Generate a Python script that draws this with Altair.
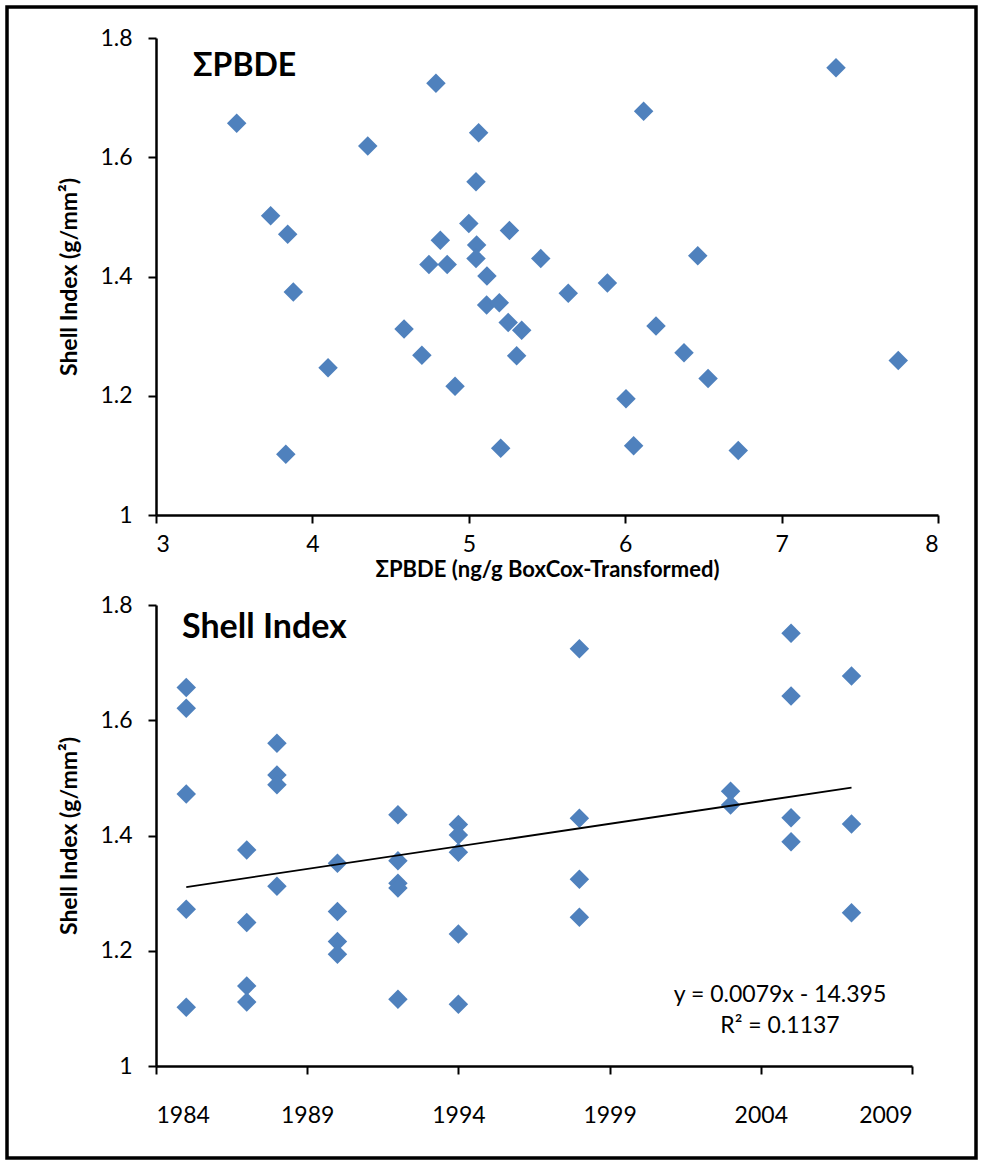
import altair as alt
import pandas as pd

# ---- Top panel: ΣPBDE vs Shell Index ----
pbde = [3.516, 3.733, 3.842, 3.878, 3.83, 4.10, 4.354, 4.586, 4.70, 4.745,
        4.79, 4.818, 4.862, 4.912, 5.0, 5.046, 5.05, 5.046, 5.063, 5.116,
        5.114, 5.195, 5.204, 5.252, 5.26, 5.306, 5.338, 5.46, 5.636, 5.886,
        6.005, 6.054, 6.118, 6.197, 6.376, 6.464, 6.53, 6.723, 7.348, 7.746]
si_top = [1.657, 1.502, 1.471, 1.374, 1.102, 1.247, 1.619, 1.312, 1.268, 1.42,
          1.724, 1.461, 1.42, 1.216, 1.489, 1.559, 1.453, 1.43, 1.641, 1.401,
          1.352, 1.356, 1.112, 1.323, 1.477, 1.267, 1.310, 1.43, 1.372, 1.389,
          1.195, 1.116, 1.677, 1.317, 1.272, 1.435, 1.229, 1.108, 1.750, 1.259]

# ---- Bottom panel: year vs Shell Index ----
years = ([1985] * 5 + [1987] * 4 + [1988] * 4 + [1990] * 4 + [1992] * 5 +
         [1994] * 5 + [1998] * 4 + [2003] * 2 + [2005] * 4 + [2007] * 3)
si_bottom = [1.657, 1.621, 1.472, 1.272, 1.102,
             1.375, 1.249, 1.139, 1.111,
             1.560, 1.505, 1.488, 1.312,
             1.352, 1.268, 1.216, 1.194,
             1.436, 1.356, 1.317, 1.309, 1.116,
             1.419, 1.401, 1.371, 1.229, 1.107,
             1.724, 1.430, 1.324, 1.258,
             1.477, 1.453,
             1.751, 1.642, 1.431, 1.389,
             1.677, 1.420, 1.266]

y_ticks = [1.0, 1.2, 1.4, 1.6, 1.8]
x_ticks_top = [3, 4, 5, 6, 7, 8]
x_ticks_bottom = [1984, 1989, 1994, 1999, 2004, 2009]

top_title = ["ΣPBDE"]
bottom_title = ["Shell Index"]
equation = ["y = 0.0079x - 14.395\nR² = 0.1137"]

FONT = "Lato, Noto Sans, sans-serif"
BLUE = "#4F81BD"

df_top = pd.DataFrame({"pbde": pbde, "si": si_top})
df_bot = pd.DataFrame({"year": years, "si": si_bottom})

y_title = "Shell Index (g/mm²)"

W1, H1 = 782, 477
W2, H2 = 756, 461

y_scale = alt.Scale(domain=[1, 1.8], nice=False, zero=False)
y_axis = alt.Axis(values=y_ticks, format=".1~f", title=y_title,
                  labelPadding=16, titlePadding=18)

# Top chart
pts_top = alt.Chart(df_top).mark_point(
    shape="diamond", filled=True, size=380, color=BLUE, opacity=1
).encode(
    x=alt.X("pbde:Q", scale=alt.Scale(domain=[3, 8], nice=False, zero=False),
            axis=alt.Axis(values=x_ticks_top, format="d", title="ΣPBDE (ng/g BoxCox-Transformed)",
                          labelPadding=10, titlePadding=3, titleFontSize=22)),
    y=alt.Y("si:Q", scale=y_scale, axis=y_axis),
)

title_top = alt.Chart(pd.DataFrame({"t": top_title})).mark_text(
    align="left", baseline="alphabetic", font=FONT, fontSize=32, fontWeight="bold", color="black"
).encode(x=alt.value(37), y=alt.value(38), text="t:N")

border = alt.Chart(pd.DataFrame({"b": [1]})).mark_rect(
    fill="white", fillOpacity=0, stroke="black", strokeWidth=3.5
).encode(x=alt.value(-149), x2=alt.value(820), y=alt.value(-31), y2=alt.value(1120))

top = alt.layer(border, pts_top, title_top).properties(width=W1, height=H1)

# Bottom chart
base_bot = alt.Chart(df_bot)
pts_bot = base_bot.mark_point(
    shape="diamond", filled=True, size=380, color=BLUE, opacity=1
).encode(
    x=alt.X("year:Q", scale=alt.Scale(domain=[1984, 2009], nice=False, zero=False),
            axis=alt.Axis(values=x_ticks_bottom, format="d", title=None, labelPadding=30)),
    y=alt.Y("si:Q", scale=y_scale, axis=y_axis),
)
trend = base_bot.transform_regression("year", "si", method="linear").mark_line(
    color="black", strokeWidth=1.8
).encode(x="year:Q", y="si:Q")

title_bot = alt.Chart(pd.DataFrame({"t": bottom_title})).mark_text(
    align="left", baseline="alphabetic", font=FONT, fontSize=34, fontWeight="bold", color="black"
).encode(x=alt.value(26), y=alt.value(33), text="t:N")

eq_text = alt.Chart(pd.DataFrame({"t": equation})).mark_text(
    align="center", baseline="alphabetic", font=FONT, fontSize=23, color="black",
    lineBreak="\n", lineHeight=31
).encode(x=alt.value(624), y=alt.value(397), text="t:N")

bottom = alt.layer(pts_bot, trend, eq_text, title_bot).properties(width=W2, height=H2)

chart = alt.vconcat(top, bottom, spacing=90, bounds="flush").properties(
    padding={"left": 5, "top": 5, "right": 0, "bottom": 0}
).configure(
    font=FONT,
).configure_view(
    stroke=None
).configure_axis(
    grid=False,
    domainColor="black", domainWidth=2.5,
    tickColor="black", tickWidth=2, tickSize=8,
    labelFont=FONT, labelFontSize=23, labelColor="black",
    titleFont=FONT, titleFontSize=23, titleFontWeight="bold", titleColor="black",
)

chart.save("out.html", embed_options={"renderer": "svg", "actions": False})
